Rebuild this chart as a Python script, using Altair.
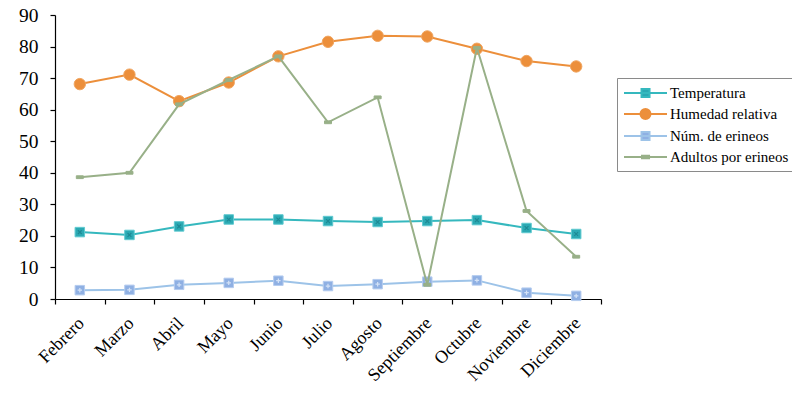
import altair as alt
import pandas as pd

months = ["Febrero", "Marzo", "Abril", "Mayo", "Junio", "Julio", "Agosto",
          "Septiembre", "Octubre", "Noviembre", "Diciembre"]
temperatura = [21.2, 20.3, 23.0, 25.2, 25.2, 24.7, 24.4, 24.7, 25.0, 22.5, 20.6]
humedad = [68.1, 71.1, 62.7, 68.6, 76.9, 81.5, 83.4, 83.2, 79.3, 75.4, 73.7]
erineos = [2.8, 2.9, 4.5, 5.1, 5.8, 4.1, 4.7, 5.5, 5.9, 2.0, 1.0]
adultos = [38.6, 40.0, 61.7, 69.4, 76.9, 56.0, 63.9, 4.5, 79.6, 27.9, 13.4]

series_names = ["Temperatura", "Humedad relativa", "Núm. de erineos", "Adultos por erineos"]
series_values = [temperatura, humedad, erineos, adultos]
line_colors = ["#35B8BE", "#EC8F3B", "#9DC3E8", "#98B088"]
marker_fill = ["#2BA9B3", "#EC8F3B", "#8FB0E3", "#98B088"]
marker_stroke = ["#5FCAD0", "#F0A560", "#B5CCEF", "#98B088"]
marker_shape = ["square", "circle", "square", "M-1,-0.4H1V0.4H-1Z"]
marker_size = [90, 130, 90, 49]
overlay_shape = ["M-0.6,-0.6L0.6,0.6M-0.6,0.6L0.6,-0.6", None, "M0,-0.7V0.7M-0.7,0H0.7", None]
overlay_color = ["#1D8A95", None, "#D4E2F6", None]
legend_paths = [
    "M-1,0H4.375M1.19,-0.5H2.19V0.5H1.19Z",
    "M-1,0H4.375M2.31,0A0.625,0.625 0 1,1 1.06,0A0.625,0.625 0 1,1 2.31,0Z",
    "M-1,0H4.375M1.19,-0.5H2.19V0.5H1.19Z",
    "M-1,0H4.375M1.25,-0.16H2.13V0.16H1.25Z",
]

rows = []
for name, vals in zip(series_names, series_values):
    for m, v in zip(months, vals):
        rows.append({"mes": m, "valor": v, "serie": name})
df = pd.DataFrame(rows)

x_enc = alt.X("mes:N", sort=months,
              scale=alt.Scale(type="band", domain=months, paddingInner=0, paddingOuter=0),
              bandPosition=0.5,
              axis=alt.Axis(title=None, labelAngle=-45, tickBand="extent", labelOffset=-5))
y_enc = alt.Y("valor:Q", scale=alt.Scale(domain=[0, 90], nice=False),
              axis=alt.Axis(title=None, values=list(range(0, 91, 10)), grid=False))

base = alt.Chart(df)
layers = []
for i, name in enumerate(series_names):
    sub = base.transform_filter(alt.datum.serie == name)
    layers.append(sub.mark_line(color=line_colors[i], strokeWidth=2).encode(x=x_enc, y=y_enc))
    layers.append(sub.mark_point(shape=marker_shape[i], filled=True, fill=marker_fill[i],
                                 stroke=marker_stroke[i], strokeWidth=1, opacity=1,
                                 size=marker_size[i]).encode(x=x_enc, y=y_enc))
    if overlay_shape[i]:
        layers.append(sub.mark_point(shape=overlay_shape[i], filled=False, stroke=overlay_color[i],
                                     strokeWidth=1.2, opacity=1, size=40).encode(x=x_enc, y=y_enc))

leg_scale_c = alt.Scale(domain=series_names, range=line_colors)
leg_scale_s = alt.Scale(domain=series_names, range=legend_paths)
legend_layer = base.transform_filter("false").mark_point(
    filled=True, opacity=1, strokeWidth=2).encode(
    x=x_enc, y=y_enc,
    fill=alt.Fill("serie:N", scale=alt.Scale(domain=series_names, range=marker_fill), title=None),
    stroke=alt.Stroke("serie:N", scale=leg_scale_c, title=None),
    shape=alt.Shape("serie:N", scale=leg_scale_s, title=None),
    size=alt.Size("serie:N", scale=alt.Scale(domain=series_names, range=[256, 256, 256, 256]),
                  title=None),
)
layers.append(legend_layer)

chart = alt.layer(*layers).properties(
    width=546, height=284,
    autosize=alt.AutoSizeParams(type="none"),
    padding={"left": 47, "top": 7, "right": 191, "bottom": 89},
    background="white",
).configure_view(stroke=None).configure_axis(
    labelFont="Liberation Serif", labelColor="black", domainColor="black",
    tickColor="black", domainWidth=1.2, tickWidth=1.2, tickSize=5,
).configure_axisY(
    labelFontSize=19.5, labelPadding=12,
).configure_axisX(
    labelFontSize=18, labelPadding=10, labelAlign="right", labelBaseline="top",
).configure_legend(
    orient="none", legendX=562, legendY=63,
    labelFont="Liberation Serif", labelFontSize=15, labelColor="black",
    symbolStrokeWidth=2, labelOffset=29, rowPadding=4,
    strokeColor="#8a8a8a", padding=6, fillColor="white",
)

chart.save("out.html", embed_options={"renderer": "svg", "actions": False})
